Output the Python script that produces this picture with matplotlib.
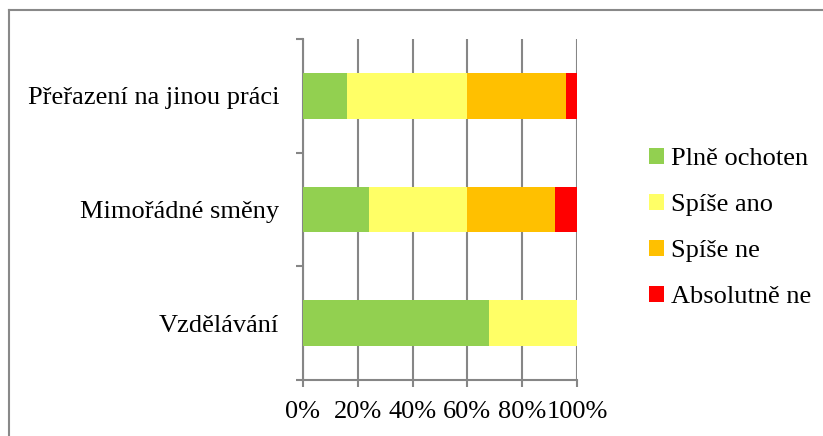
import numpy as np
import matplotlib.pyplot as plt
from matplotlib.lines import Line2D

plt.rcParams['font.family'] = ['Liberation Serif', 'DejaVu Serif']

# Data (percent)
categories = ['Vzdělávání', 'Mimořádné směny', 'Přeřazení na jinou práci']
series_names = ['Plně ochoten', 'Spíše ano', 'Spíše ne', 'Absolutně ne']
plne_ochoten = [68, 24, 16]
spise_ano = [32, 36, 44]
spise_ne = [0, 32, 36]
absolutne_ne = [0, 8, 4]
colors = ['#92d050', '#ffff66', '#ffc000', '#ff0000']
x_ticks = [0, 20, 40, 60, 80, 100]
x_tick_labels = ['0%', '20%', '40%', '60%', '80%', '100%']

grey = '#868686'
fs = 19

fig = plt.figure(figsize=(8.23, 4.36), dpi=100)
ax = fig.add_axes([303 / 823, 56 / 436, 274 / 823, 341 / 436])

ypos = np.arange(len(categories))
left = np.zeros(len(categories))
for name, vals, col in zip(series_names,
                           [plne_ochoten, spise_ano, spise_ne, absolutne_ne],
                           colors):
    ax.barh(ypos, vals, left=left, height=0.4, color=col, label=name, zorder=3)
    left += np.array(vals)

ax.set_xlim(0, 100)
ax.set_ylim(-0.5, len(categories) - 0.5)
ax.set_xticks(x_ticks)
ax.set_xticklabels(x_tick_labels, fontsize=fs)
ax.xaxis.grid(True, color=grey, linewidth=1.5, zorder=0)

# category boundaries as major ticks, labels on minor ticks
ax.set_yticks(np.arange(-0.5, len(categories), 1.0))
ax.set_yticklabels([])
ax.set_yticks(ypos, minor=True)
ax.set_yticklabels(categories, minor=True, fontsize=fs)
ax.tick_params(axis='y', which='major', length=5, width=1.5, color=grey)
ax.tick_params(axis='y', which='minor', length=0, pad=17)
ax.tick_params(axis='x', length=5, width=1.5, color=grey, pad=10)

for s in ['top', 'right']:
    ax.spines[s].set_visible(False)
for s in ['left', 'bottom']:
    ax.spines[s].set_color(grey)
    ax.spines[s].set_linewidth(1.5)

handles, labels = ax.get_legend_handles_labels()
fig.legend(handles, labels, loc='center left', bbox_to_anchor=(649 / 823, 1 - 228 / 436),
           frameon=False, fontsize=fs, handlelength=0.55, handleheight=0.55,
           handletextpad=0.3, labelspacing=0.9, borderpad=0, borderaxespad=0)

# outer chart border (only left and top visible in the picture)
border_x = 9 / 823
border_y = 1 - 10 / 436
fig.add_artist(Line2D([border_x, border_x], [0, border_y], transform=fig.transFigure,
                      color='#898989', linewidth=1.5))
fig.add_artist(Line2D([border_x, 1], [border_y, border_y], transform=fig.transFigure,
                      color='#898989', linewidth=1.5))

fig.savefig('out.png', dpi=100)
